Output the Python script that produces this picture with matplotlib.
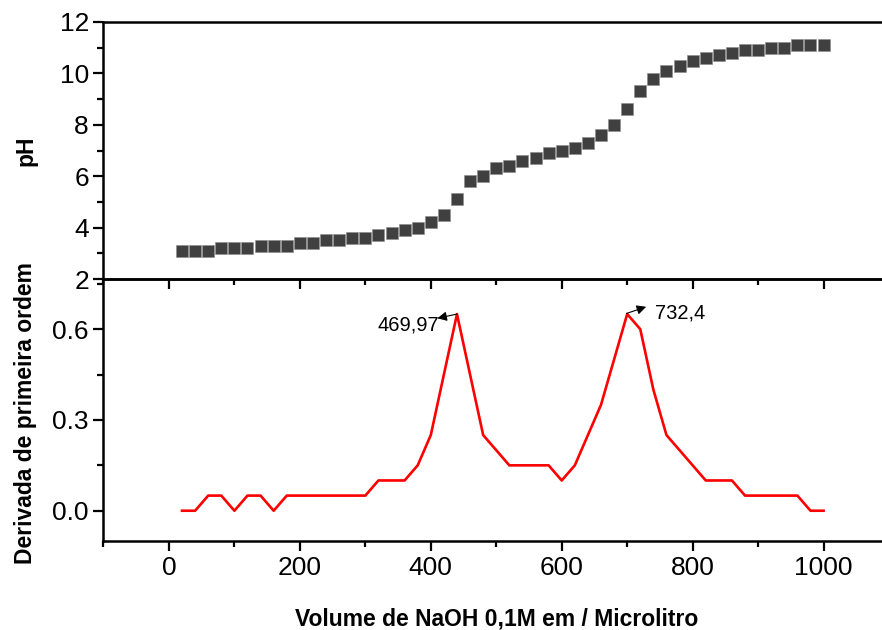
import matplotlib
matplotlib.use("Agg")
import matplotlib.pyplot as plt
from matplotlib.ticker import MultipleLocator

# volume de NaOH (microlitro)
vol = [20, 40, 60, 80, 100, 120, 140, 160, 180, 200,
       220, 240, 260, 280, 300, 320, 340, 360, 380, 400,
       420, 440, 460, 480, 500, 520, 540, 560, 580, 600,
       620, 640, 660, 680, 700, 720, 740, 760, 780, 800,
       820, 840, 860, 880, 900, 920, 940, 960, 980, 1000]

ph = [3.1, 3.1, 3.1, 3.2, 3.2, 3.2, 3.3, 3.3, 3.3, 3.4,
      3.4, 3.5, 3.5, 3.6, 3.6, 3.7, 3.8, 3.9, 4.0, 4.2,
      4.5, 5.1, 5.8, 6.0, 6.3, 6.4, 6.6, 6.7, 6.9, 7.0,
      7.1, 7.3, 7.6, 8.0, 8.6, 9.3, 9.8, 10.1, 10.3, 10.5,
      10.6, 10.7, 10.8, 10.9, 10.9, 11.0, 11.0, 11.1, 11.1, 11.1]

deriv = [0.0, 0.0, 0.05, 0.05, 0.0, 0.05, 0.05, 0.0, 0.05, 0.05,
         0.05, 0.05, 0.05, 0.05, 0.05, 0.1, 0.1, 0.1, 0.15, 0.25,
         0.45, 0.65, 0.45, 0.25, 0.2, 0.15, 0.15, 0.15, 0.15, 0.1,
         0.15, 0.25, 0.35, 0.5, 0.65, 0.6, 0.4, 0.25, 0.2, 0.15,
         0.1, 0.1, 0.1, 0.05, 0.05, 0.05, 0.05, 0.05, 0.0, 0.0]

plt.rcParams['font.family'] = ['Liberation Sans', 'DejaVu Sans']

fig = plt.figure(figsize=(8.82, 6.3), dpi=100)
ax2 = fig.add_axes([0.1173, 0.1413, 0.8907, 0.4159])
ax1 = fig.add_axes([0.1173, 0.5571, 0.8907, 0.408], sharex=ax2)
ax1.patch.set_visible(False)
ax2.patch.set_visible(False)

ax1.plot(vol, ph, ls='none', marker='s', ms=9.3, color='#404040',
         mec='#8a8a8a', mew=0.4)
ax2.plot(vol, deriv, color='red', lw=1.9)

ax1.set_xlim(-100, 1100)
ax1.set_ylim(2, 12)
ax2.set_ylim(-0.1, 0.766)

for ax in (ax1, ax2):
    ax.spines['right'].set_visible(False)
    for s in ax.spines.values():
        s.set_linewidth(1.8)
    ax.xaxis.set_major_locator(MultipleLocator(200))
    ax.xaxis.set_minor_locator(MultipleLocator(100))
    ax.tick_params(which='major', direction='out', length=7, width=1.6,
                   labelsize=19)
    ax.tick_params(which='minor', direction='out', length=4, width=1.6)
    ax.tick_params(top=False, right=False, which='both')

ax1.yaxis.set_major_locator(MultipleLocator(2))
ax1.yaxis.set_minor_locator(MultipleLocator(1))
ax1.tick_params(labelbottom=False)
ax2.yaxis.set_major_locator(MultipleLocator(0.3))
ax2.yaxis.set_minor_locator(MultipleLocator(0.15))

ax1.set_ylabel('pH', fontsize=16.5, fontweight='bold')
ax1.yaxis.set_label_coords(-0.084, 0.5)
ax2.set_ylabel('Derivada de primeira ordem', fontsize=16.5, fontweight='bold')
ax2.yaxis.set_label_coords(-0.084, 0.49)
ax2.set_xlabel('Volume de NaOH 0,1M em / Microlitro', fontsize=16.5,
               fontweight='bold', labelpad=20)

arrow = dict(arrowstyle='-|>', color='k', lw=0.8, mutation_scale=14,
             shrinkA=0, shrinkB=0)
ax2.annotate('', xy=(410, 0.636), xytext=(440, 0.65), arrowprops=arrow)
ax2.text(413, 0.613, '469,97', fontsize=14.5, ha='right', va='center')
ax2.annotate('', xy=(729, 0.674), xytext=(699, 0.652), arrowprops=arrow)
ax2.text(742, 0.655, '732,4', fontsize=14.5, ha='left', va='center')

fig.savefig('out.png', dpi=100)
